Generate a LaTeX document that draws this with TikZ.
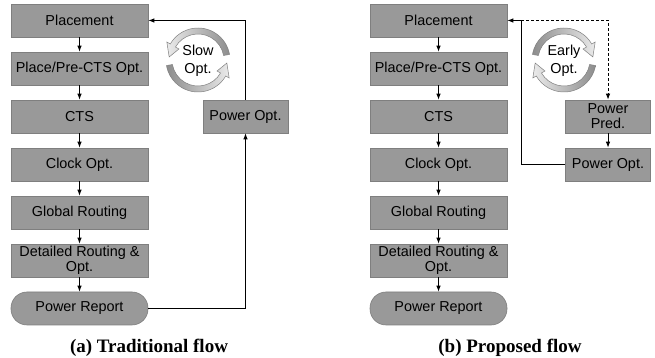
\documentclass[tikz,border=0pt]{standalone}
\usepackage{fontspec}
\setmainfont{Liberation Sans}
\newfontfamily\capfont{Liberation Serif}
\usetikzlibrary{arrows.meta,calc}

\definecolor{boxfill}{HTML}{999999}
\definecolor{boxline}{HTML}{7F7F7F}

% curved "cycle" arrow around a centre: #1 centre, #2 tail angle,
% #3 angle where the head starts, #4 tip angle, #5 shading options
\newcommand\turnarrow[5]{%
  \path[ringarrow,#5]
    ($(#1)+(#2:32)$) arc[start angle=#2,end angle=#3,radius=32]
    -- ($(#1)+(#3:36)$) -- ($(#1)+(#4:29)$) -- ($(#1)+(#3:22)$)
    -- ($(#1)+(#3:26)$) arc[start angle=#3,end angle=#2,radius=26]
    -- cycle;}

\begin{document}
\begin{tikzpicture}[x=1pt,y=1pt,
  stage/.style={draw=boxline, fill=boxfill, line width=0.6pt,
    minimum width=137pt, minimum height=33pt, inner sep=0pt,
    align=center, font=\fontsize{14.4}{15}\selectfont},
  sidebox/.style={stage, minimum width=85pt},
  report/.style={stage, rounded corners=16pt},
  flow/.style={-{Latex[length=6pt,width=4.5pt]}, line width=0.9pt},
  ringarrow/.style={draw=black!50, line width=0.5pt},
  ringtext/.style={align=center, font=\fontsize{14.4}{18}\selectfont},
  caption/.style={anchor=base, font=\capfont\bfseries\fontsize{19}{22}\selectfont}
]
\useasboundingbox (0,0) rectangle (655,358);

% ---------------- (a) traditional flow ----------------
\node[stage]  (pl) at (79.5,337.5) {Placement};
\node[stage]  (pp) at (79.5,289.5) {Place/Pre-CTS Opt.};
\node[stage]  (ct) at (79.5,241.5) {CTS};
\node[stage]  (co) at (79.5,193.5) {Clock Opt.};
\node[stage]  (gr) at (79.5,145.5) {Global Routing};
\node[stage]  (dr) at (79.5,97.5)  {Detailed Routing \&\\Opt.};
\node[report] (pr) at (79.5,49.5)  {Power Report};
\node[sidebox] (po) at (245.5,241.5) {Power Opt.};

\draw[flow] (pl) -- (pp);
\draw[flow] (pp) -- (ct);
\draw[flow] (ct) -- (co);
\draw[flow] (co) -- (gr);
\draw[flow] (gr) -- (dr);
\draw[flow] (dr) -- (pr);
\draw[flow] (pr.east) -| (po.south);
\draw[flow] (po.north) |- (pl.east);

% slow optimisation loop
\coordinate (slowc) at (198,298);
\turnarrow{slowc}{10}{150}{174}{left color=black!8, right color=black!45}
\turnarrow{slowc}{190}{330}{354}{left color=black!45, right color=black!8}
\node[ringtext] (slowt) at (198,297) {Slow\\Opt.};

\node[caption] (capa) at (149,5.3) {(a) Traditional flow};

% ---------------- (b) proposed flow ----------------
\node[stage]  (pl2) at (438.5,337.5) {Placement};
\node[stage]  (pp2) at (438.5,289.5) {Place/Pre-CTS Opt.};
\node[stage]  (ct2) at (438.5,241.5) {CTS};
\node[stage]  (co2) at (438.5,193.5) {Clock Opt.};
\node[stage]  (gr2) at (438.5,145.5) {Global Routing};
\node[stage]  (dr2) at (438.5,97.5)  {Detailed Routing \&\\Opt.};
\node[report] (pr2) at (438.5,49.5)  {Power Report};
\node[sidebox] (pd2) at (608,241.5) {Power\\Pred.};
\node[sidebox] (po2) at (608,193.5) {Power Opt.};

\draw[flow] (pl2) -- (pp2);
\draw[flow] (pp2) -- (ct2);
\draw[flow] (ct2) -- (co2);
\draw[flow] (co2) -- (gr2);
\draw[flow] (gr2) -- (dr2);
\draw[flow] (dr2) -- (pr2);
\draw[flow] (pd2) -- (po2);

\coordinate (junc) at (521,337.5);
\draw[flow] (po2.west) -| (junc) -- (pl2.east);
\draw[flow, dash pattern=on 3pt off 2pt] (junc) -| (pd2.north);

% early optimisation loop
\coordinate (earlyc) at (564,298);
\turnarrow{earlyc}{170}{30}{6}{left color=black!45, right color=black!8}
\turnarrow{earlyc}{350}{210}{186}{left color=black!8, right color=black!45}
\node[ringtext] (earlyt) at (564,297) {Early\\Opt.};

\node[caption] (capb) at (510,5.3) {(b) Proposed flow};
\end{tikzpicture}
\end{document}
